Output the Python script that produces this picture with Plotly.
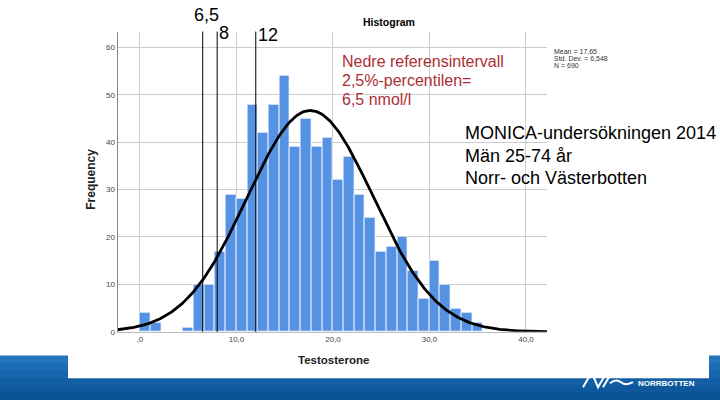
import numpy as np
import plotly.graph_objects as go

# bar heights (sum = 690)
counts = [4, 2, 0, 0, 1, 10, 10, 17, 29, 28, 48, 42, 48, 54, 39, 45,
          39, 41, 32, 37, 29, 24, 17, 18, 20, 13, 7, 15, 10, 5, 4, 2]
bin_start = 0.0
bin_width = 1.11

mean, std_dev, n_obs = 17.65, 6.548, 690

ref_values = [6.5, 8, 12]
ref_labels = ["6,5", "8", "12"]

x_tickvals = [0, 10, 20, 30, 40]
x_ticktext = [",0", "10,0", "20,0", "30,0", "40,0"]
y_tickvals = [0, 10, 20, 30, 40, 50, 60]
y_ticktext = ["0", "10", "20", "30", "40", "50", "60"]

stats_lines = ["Mean = 17,65", "Std. Dev. = 6,548", "N = 690"]
note_lines = ["Nedre referensintervall", "2,5%-percentilen=", "6,5 nmol/l"]
info_lines = ["MONICA-undersökningen 2014", "Män 25-74 år", "Norr- och Västerbotten"]

W, H = 720, 405
FONT = "Liberation Sans, Arial, sans-serif"


def px(x):
    return x / W


def py(y):
    return 1 - y / H


x_range = [-2.33, 42.18]
centers = [bin_start + bin_width * (i + 0.5) for i in range(len(counts))]

# normal curve from the stats SPSS prints
xs = np.linspace(x_range[0], x_range[1], 400)
ys = n_obs * bin_width / (std_dev * np.sqrt(2 * np.pi)) * np.exp(-0.5 * ((xs - mean) / std_dev) ** 2)

fig = go.Figure()
fig.add_trace(go.Bar(
    x=centers, y=counts, width=bin_width,
    marker=dict(color="#5592e3", line=dict(color="white", width=0.8)),
    showlegend=False, hoverinfo="skip",
))
fig.add_trace(go.Scatter(
    x=xs, y=ys, mode="lines", line=dict(color="black", width=2.8),
    showlegend=False, hoverinfo="skip",
))

shapes = []
# blue footer band (rough gradient) and white panel over it
band_top, band_cols = 360, ["#2475bb", "#1d6db4", "#1766ad", "#125fa5", "#0e589c", "#0a5294"]
step = (H - band_top) / len(band_cols)
for i, c in enumerate(band_cols):
    shapes.append(dict(type="rect", xref="paper", yref="paper", x0=0, x1=1,
                       y0=py(min(H, band_top + step * (i + 1) + 1.5)), y1=py(band_top + step * i),
                       fillcolor=c, line=dict(width=0), layer="below"))
shapes.append(dict(type="rect", xref="paper", yref="paper", x0=px(68), x1=px(709),
                   y0=py(383), y1=py(350), fillcolor="white", line=dict(width=0), layer="below"))

# reference lines
for v in ref_values:
    shapes.append(dict(type="line", xref="x", yref="y domain", x0=v, x1=v, y0=0, y1=1,
                       line=dict(color="black", width=1), layer="above"))

# logo strokes
logo = dict(color="white", width=2)
shapes += [
    dict(type="line", xref="paper", yref="paper", x0=px(583), y0=py(392), x1=px(590), y1=py(380), line=logo),
    dict(type="path", xref="paper", yref="paper", line=logo,
         path=f"M {px(593)} {py(380)} L {px(598)} {py(392)} L {px(605)} {py(380)}"),
    dict(type="line", xref="paper", yref="paper", x0=px(603), y0=py(392), x1=px(610), y1=py(380), line=logo),
    dict(type="path", xref="paper", yref="paper", line=logo,
         path=f"M {px(610)} {py(388)} Q {px(616)} {py(383)} {px(621)} {py(387)} T {px(633)} {py(387)}"),
]

ann = []
# labels over the reference lines
ann.append(dict(x=ref_values[0], y=py(15), xref="x", yref="paper", text=ref_labels[0],
                xanchor="center", yanchor="middle", xshift=4, showarrow=False,
                font=dict(family=FONT, size=18, color="black")))
for v, lab, yy in zip(ref_values[1:], ref_labels[1:], [33, 35]):
    ann.append(dict(x=v, y=py(yy), xref="x", yref="paper", text=lab,
                    xanchor="left", yanchor="middle", xshift=0, showarrow=False,
                    font=dict(family=FONT, size=18, color="black")))

ann.append(dict(x=px(389), y=py(22), xref="paper", yref="paper", text="<b>Histogram</b>",
                showarrow=False, xanchor="center", yanchor="middle",
                font=dict(family=FONT, size=10.5, color="black")))

for t, yy in zip(stats_lines, [52, 59, 66]):
    ann.append(dict(x=px(552), y=py(yy), xref="paper", yref="paper", text=t,
                    showarrow=False, xanchor="left", yanchor="middle",
                    font=dict(family=FONT, size=7, color="#333")))

for t, yy in zip(note_lines, [62, 82, 101]):
    ann.append(dict(x=px(340), y=py(yy), xref="paper", yref="paper", text=t,
                    showarrow=False, xanchor="left", yanchor="middle",
                    font=dict(family=FONT, size=16, color="#ad2f36")))

for t, yy in zip(info_lines, [135, 158, 180]):
    ann.append(dict(x=px(463), y=py(yy), xref="paper", yref="paper", text=t,
                    showarrow=False, xanchor="left", yanchor="middle",
                    font=dict(family=FONT, size=18, color="black")))

ann.append(dict(x=px(91), y=py(182), xref="paper", yref="paper", text="<b>Frequency</b>",
                textangle=-90, showarrow=False, xanchor="center", yanchor="middle",
                font=dict(family=FONT, size=12, color="#222")))
ann.append(dict(x=px(333), y=py(365), xref="paper", yref="paper", text="<b>Testosterone</b>",
                showarrow=False, xanchor="center", yanchor="middle",
                font=dict(family=FONT, size=11.5, color="#222")))
ann.append(dict(x=px(636), y=py(388), xref="paper", yref="paper", text="<b>NORRBOTTEN</b>",
                showarrow=False, xanchor="left", yanchor="middle",
                font=dict(family=FONT, size=8, color="white")))

fig.update_layout(
    width=W, height=H,
    margin=dict(l=0, r=0, t=0, b=0),
    paper_bgcolor="white", plot_bgcolor="white",
    bargap=0,
    shapes=shapes, annotations=ann,
    xaxis=dict(domain=[px(117.5), px(547)], range=x_range,
               tickvals=x_tickvals, ticktext=x_ticktext,
               showgrid=True, gridcolor="#cccccc", gridwidth=1, zeroline=False,
               showline=True, linecolor="#bbbbbb", ticks="",
               tickfont=dict(family=FONT, size=8, color="#444")),
    yaxis=dict(domain=[py(336), py(32)], range=[0, 63.3],
               tickvals=y_tickvals, ticktext=y_ticktext,
               showgrid=True, gridcolor="#cccccc", gridwidth=1, zeroline=False,
               showline=True, linecolor="#888888", ticks="",
               tickfont=dict(family=FONT, size=8, color="#444")),
)

# the page's default body margin would shift everything by 8px
fig.write_html("out.html", config={"displayModeBar": False},
               post_script="document.body.style.margin='0';document.body.style.overflow='hidden';")
